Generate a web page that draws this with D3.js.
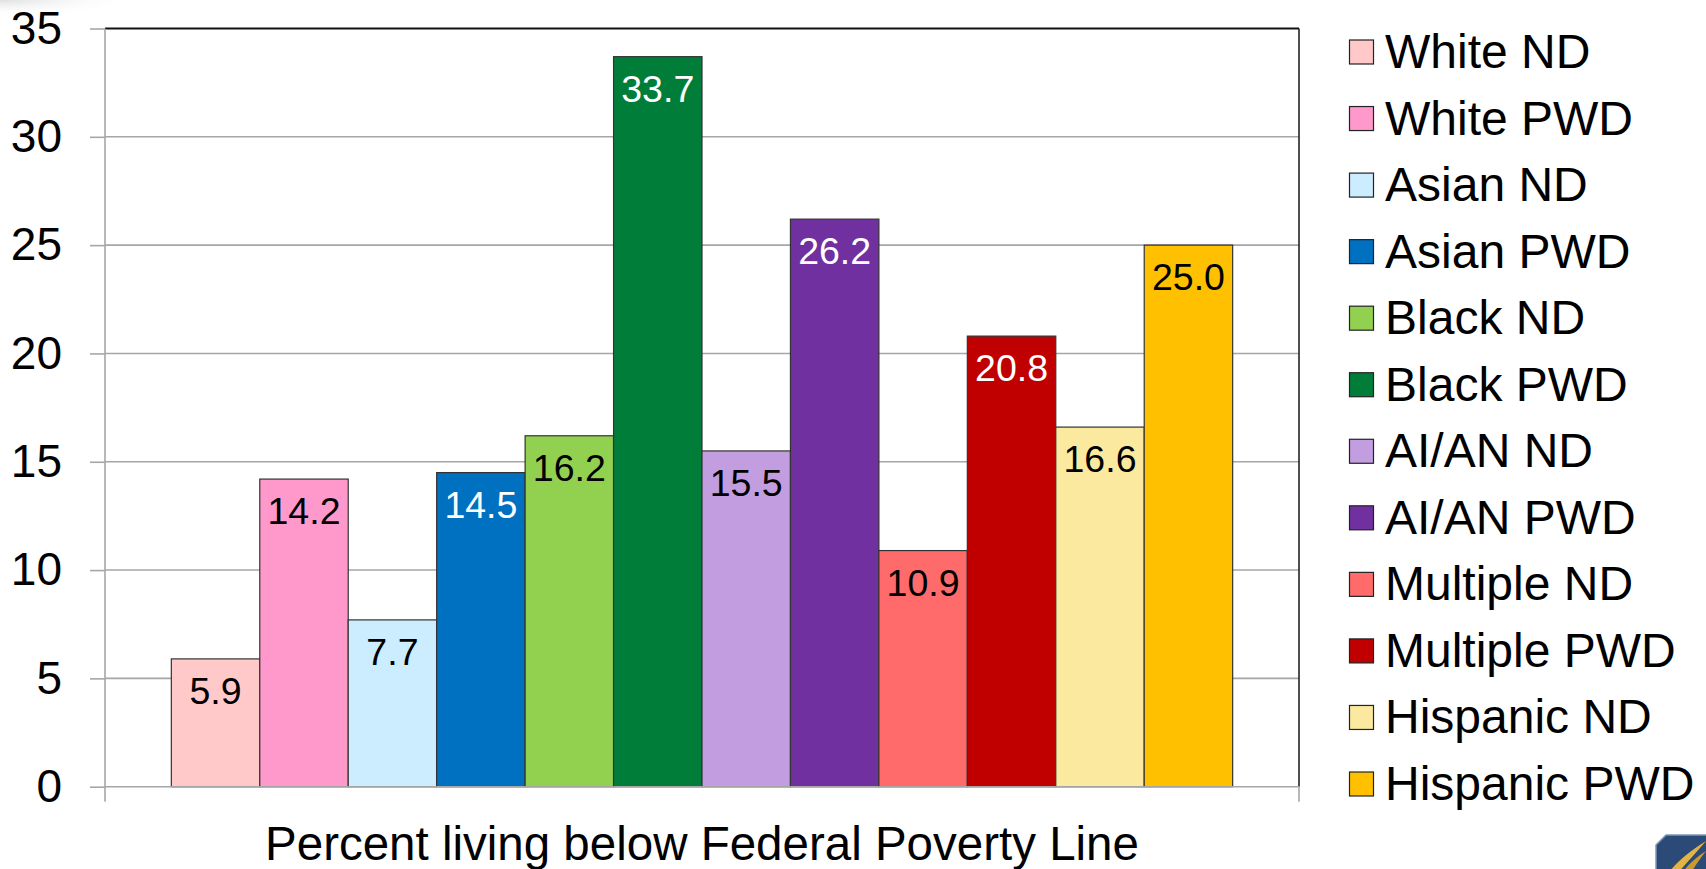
<!DOCTYPE html>
<html>
<head>
<meta charset="utf-8">
<script src="https://cdn.jsdelivr.net/npm/d3@7"></script>
<style>
  html, body { margin: 0; padding: 0; background: #fff; }
  svg { display: block; }
  text { font-family: "Liberation Sans", Arial, Helvetica, sans-serif; }
</style>
</head>
<body>
<svg id="chart" width="1706" height="869"></svg>
<script>
// Poverty rates by race/ethnicity, people without (ND) and with (PWD) disabilities
const categories = [
  "White ND", "White PWD", "Asian ND", "Asian PWD", "Black ND", "Black PWD",
  "AI/AN ND", "AI/AN PWD", "Multiple ND", "Multiple PWD", "Hispanic ND", "Hispanic PWD"
];
const values = [5.9, 14.2, 7.7, 14.5, 16.2, 33.7, 15.5, 26.2, 10.9, 20.8, 16.6, 25.0];
const colors = [
  "#FFC9C9", "#FF99CC", "#CCECFF", "#0070C0", "#92D050", "#007E39",
  "#C29DE0", "#7030A0", "#FF6B6B", "#C00000", "#FCE9A0", "#FFC000"
];
const labelColors = [
  "#000", "#000", "#000", "#fff", "#000", "#fff",
  "#000", "#fff", "#000", "#fff", "#000", "#000"
];
const yTicks = [0, 5, 10, 15, 20, 25, 30, 35];
const xTitle = "Percent living below Federal Poverty Line";

const svg = d3.select("#chart");

// faint corner shading
const defs = svg.append("defs");
const rg = defs.append("radialGradient").attr("id", "corner")
  .attr("cx", 0).attr("cy", 0).attr("r", 1);
rg.append("stop").attr("offset", "0%").attr("stop-color", "#d8d8d8").attr("stop-opacity", 0.8);
rg.append("stop").attr("offset", "100%").attr("stop-color", "#ffffff").attr("stop-opacity", 0);
svg.append("rect").attr("x", 0).attr("y", 0).attr("width", 140).attr("height", 16)
  .attr("fill", "url(#corner)");

const plot = { left: 105, right: 1299, top: 28.5, bottom: 786.7 };

const x = d3.scaleBand()
  .domain(categories)
  .range([plot.left, plot.right])
  .paddingInner(0)
  .paddingOuter(0.75);

const y = d3.scaleLinear()
  .domain([0, 35])
  .range([plot.bottom, plot.top]);

// horizontal gridlines
svg.append("g")
  .selectAll("line")
  .data(yTicks.filter(t => t > 0 && t < 35))
  .join("line")
  .attr("x1", plot.left).attr("x2", plot.right)
  .attr("y1", d => y(d)).attr("y2", d => y(d))
  .attr("stroke", "#A6A6A6").attr("stroke-width", 1.6);

// y axis: outward ticks and labels
const yAxis = d3.axisLeft(y).tickValues(yTicks).tickSize(15).tickPadding(28).tickFormat(d3.format("d"));
const gy = svg.append("g").attr("transform", `translate(${plot.left},0)`).call(yAxis);
gy.select(".domain").remove();
gy.selectAll(".tick line").attr("stroke", "#A6A6A6").attr("stroke-width", 1.6);
gy.selectAll(".tick text").attr("font-size", 46).attr("fill", "#000")
  .attr("font-family", "'Liberation Sans', Arial, sans-serif");

// bars
svg.append("g")
  .selectAll("rect")
  .data(categories)
  .join("rect")
  .attr("x", d => x(d))
  .attr("y", (d, i) => y(values[i]))
  .attr("width", x.bandwidth())
  .attr("height", (d, i) => y(0) - y(values[i]))
  .attr("fill", (d, i) => colors[i])
  .attr("stroke", "#333")
  .attr("stroke-width", 1.2);

// value labels inside bar tops
svg.append("g")
  .selectAll("text")
  .data(categories)
  .join("text")
  .attr("x", d => x(d) + x.bandwidth() / 2)
  .attr("y", (d, i) => y(values[i]) + 45)
  .attr("text-anchor", "middle")
  .attr("font-size", 37.5)
  .attr("fill", (d, i) => labelColors[i])
  .text((d, i) => values[i].toFixed(1));

// plot frame: dark top/right, grey axes left/bottom
svg.append("line").attr("x1", plot.left).attr("x2", plot.right)
  .attr("y1", plot.top).attr("y2", plot.top).attr("stroke", "#111").attr("stroke-width", 1.8);
svg.append("line").attr("x1", plot.right).attr("x2", plot.right)
  .attr("y1", plot.top).attr("y2", plot.bottom).attr("stroke", "#222").attr("stroke-width", 1.6);
svg.append("line").attr("x1", plot.left).attr("x2", plot.left)
  .attr("y1", plot.top).attr("y2", plot.bottom + 15).attr("stroke", "#A6A6A6").attr("stroke-width", 1.6);
svg.append("line").attr("x1", plot.left).attr("x2", plot.right)
  .attr("y1", plot.bottom).attr("y2", plot.bottom).attr("stroke", "#A6A6A6").attr("stroke-width", 1.6);
svg.append("line").attr("x1", plot.right).attr("x2", plot.right)
  .attr("y1", plot.bottom).attr("y2", plot.bottom + 15).attr("stroke", "#A6A6A6").attr("stroke-width", 1.6);

// x axis title
svg.append("text")
  .attr("x", (plot.left + plot.right) / 2)
  .attr("y", 860)
  .attr("text-anchor", "middle")
  .attr("font-size", 47.5)
  .attr("fill", "#000")
  .text(xTitle);

// legend
const legend = svg.append("g").attr("transform", "translate(1349,0)");
const rowY = d3.scaleLinear().domain([0, categories.length - 1]).range([68, 800]);
const items = legend.selectAll("g").data(categories).join("g")
  .attr("transform", (d, i) => `translate(0,${rowY(i)})`);
items.append("rect")
  .attr("x", 0.5).attr("y", -28).attr("width", 24).attr("height", 24)
  .attr("fill", (d, i) => colors[i])
  .attr("stroke", "#222").attr("stroke-width", 1.2);
items.append("text")
  .attr("x", 36).attr("y", 0)
  .attr("font-size", 48)
  .attr("fill", "#000")
  .text(d => d);

// corner emblem
const logo = svg.append("g").attr("transform", "translate(1656,835)");
logo.append("path")
  .attr("d", "M10,0 L60,0 L60,40 L0,40 L0,10 Z")
  .attr("fill", "#2C4A78").attr("stroke", "#7D95B8").attr("stroke-width", 1.5)
  .attr("stroke-linejoin", "round");
logo.append("path")
  .attr("d", "M14,36 C22,26 34,16 50,6 C40,18 30,28 22,38 Z")
  .attr("fill", "#E3B443");
logo.append("path")
  .attr("d", "M26,38 C32,30 40,22 50,16 C44,24 38,32 34,40 Z")
  .attr("fill", "#C99A2E");
</script>
</body>
</html>
